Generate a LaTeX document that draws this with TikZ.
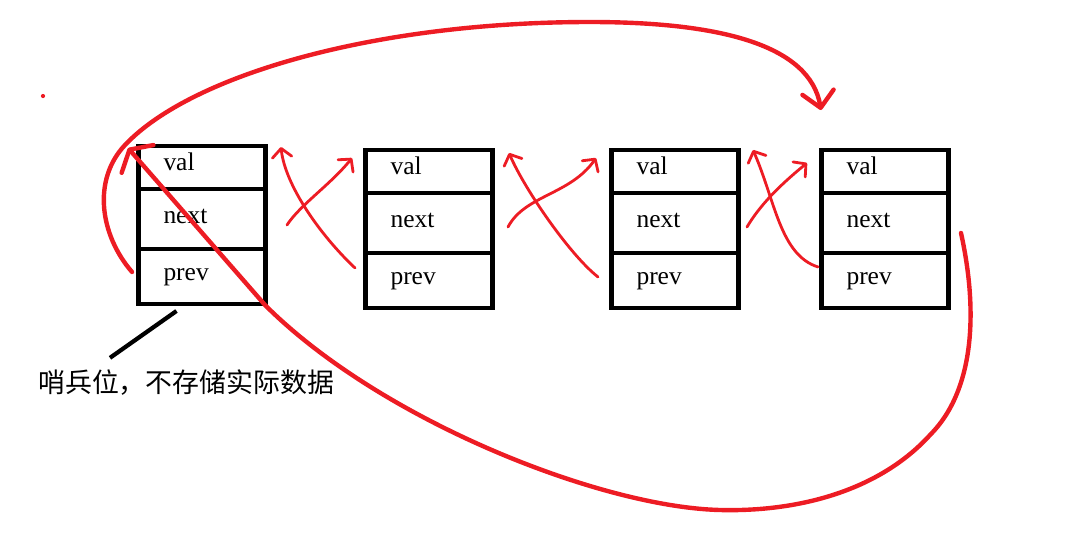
\documentclass[tikz,border=0pt]{standalone}
\usepackage{fontspec}
\setmainfont{Liberation Serif}
\newfontfamily\cjkfont{Noto Sans CJK SC}
\usetikzlibrary{arrows.meta, positioning}
\definecolor{penred}{RGB}{237,28,36}

\begin{document}
\begin{tikzpicture}[
  x=0.02cm, y=-0.02cm,
  cell/.style={draw, line width=2.4pt, outer sep=0pt, minimum width=2.54cm, text width=1.54cm, inner xsep=0.5cm, inner ysep=0pt, align=left, font=\fontsize{14.5}{17}\selectfont, text height=0.7em, text depth=0.2em},
  valcell/.style={cell, minimum height=0.86cm, text depth=0.35em},
  nextcell/.style={cell, minimum height=1.2cm},
  prevcell/.style={cell, minimum height=1.1cm},
  link/.style={draw=penred, line width=1.6pt, line cap=round, -{Straight Barb[length=5pt, width=11pt, round]}},
  ringptr/.style={draw=penred, line width=2.5pt, line cap=round, -{Straight Barb[length=9pt, width=18pt, round]}}
]
\useasboundingbox (0,0) rectangle (1087,535);

% Sentinel node
\node[valcell, anchor=north] (n1val) at (202,146) {val};
\node[nextcell, below=0pt of n1val] (n1next) {next};
\node[prevcell, below=0pt of n1next] (n1prev) {prev};

% Data nodes
\node[valcell, anchor=north] (n2val) at (429,150) {val};
\node[nextcell, below=0pt of n2val] (n2next) {next};
\node[prevcell, below=0pt of n2next] (n2prev) {prev};

\node[valcell, anchor=north] (n3val) at (675,150) {val};
\node[nextcell, below=0pt of n3val] (n3next) {next};
\node[prevcell, below=0pt of n3next] (n3prev) {prev};

\node[valcell, anchor=north] (n4val) at (885,150) {val};
\node[nextcell, below=0pt of n4val] (n4next) {next};
\node[prevcell, below=0pt of n4next] (n4prev) {prev};

% Note on the sentinel
\node[font=\cjkfont\fontsize{15.3}{18}\selectfont, anchor=west, inner sep=0pt] (note) at (38,383) {哨兵位，不存储实际数据};
\draw[line width=2.4pt] ([shift={(72,-12)}]note.north west) -- ([shift={(38,7)}]n1prev.south west);

\fill[penred] (43,96) circle (1.2pt);

% next / prev links
\draw[link] ([shift={(21.5,6)}]n1next.east) .. controls (300,205) and (330,185) .. ([shift={(-13.5,-13.5)}]n2val.west);
\draw[link] ([shift={(-10.5,-12.5)}]n2prev.west) .. controls (320,235) and (285,185) .. ([shift={(15.5,1)}]n1val.north east);
\draw[link] ([shift={(15.5,4)}]n2next.east) .. controls (525,195) and (570,195) .. ([shift={(-15.5,-13.5)}]n3val.west);
\draw[link] ([shift={(-13.5,-3.5)}]n3prev.west) .. controls (570,255) and (525,190) .. ([shift={(16.5,3)}]n2val.north east);
\draw[link] ([shift={(8.5,4)}]n3next.east) .. controls (760,205) and (780,185) .. ([shift={(-14.5,-8.5)}]n4val.west);
\draw[link] ([shift={(-3.5,-13.5)}]n4prev.west) .. controls (780,255) and (775,200) .. ([shift={(14.5,0)}]n3val.north east);

% Circular links
\draw[ringptr] ([shift={(-6.5,-4.5)}]n1prev.west) .. controls (100,235) and (92,180) .. (125,145) .. controls (191,75) and (375,22) .. (590,22) .. controls (720,22) and (810,45) .. ([shift={(-64,-40)}]n4val.north);
\draw[ringptr, -{Straight Barb[length=7pt, width=24pt, round]}] ([shift={(12.5,10)}]n4next.east) .. controls (978,310) and (975,390) .. (930,435) .. controls (880,490) and (800,512) .. (720,510) .. controls (600,507) and (380,420) .. (265,305) -- ([shift={(-10.5,2)}]n1val.north west);

\end{tikzpicture}
\end{document}
